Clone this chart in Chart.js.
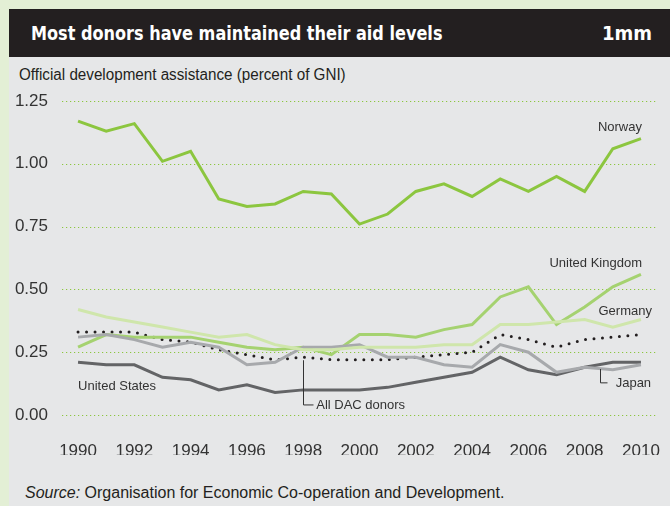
<!DOCTYPE html>
<html>
<head>
<meta charset="utf-8">
<script src="https://cdn.jsdelivr.net/npm/chart.js@4"></script>
<style>
  html, body { margin:0; padding:0; }
  body { width:670px; height:506px; background:#e3efd5; position:relative; overflow:hidden; }
  .panel { position:absolute; left:9px; top:57px; right:0; bottom:0; background:#e6e7e8; }
  .bar { position:absolute; left:9px; top:9px; right:0; height:48px; background:#231f20; color:#fff;
         font-family:"Liberation Sans Narrow","DejaVu Sans Condensed",Arial,sans-serif; font-weight:bold; font-size:20px; }
  .bar .t { position:absolute; left:22px; top:12px; transform:scaleX(0.895); transform-origin:left center; white-space:nowrap; }
  .bar .r { position:absolute; right:18px; top:12px; }
  .sub { position:absolute; left:19px; top:66px; font-family:"Liberation Sans Narrow",Arial,sans-serif; font-size:16px; color:#231f20;
         transform:scaleX(0.95); transform-origin:left center; white-space:nowrap; }
  .src { position:absolute; left:25px; top:484px; font-family:"Liberation Sans Narrow",Arial,sans-serif; font-size:16px; color:#231f20; white-space:nowrap; }
  canvas { position:absolute; left:0; top:0; }
</style>
</head>
<body>
<div class="panel"></div>
<div class="bar"><span class="t">Most donors have maintained their aid levels</span><span class="r">1mm</span></div>
<div class="sub">Official development assistance (percent of GNI)</div>
<div class="src"><i>Source:</i> Organisation for Economic Co-operation and Development.</div>
<canvas id="c" width="670" height="506"></canvas>
<script>
const years = [1990,1991,1992,1993,1994,1995,1996,1997,1998,1999,2000,2001,2002,2003,2004,2005,2006,2007,2008,2009,2010];
const norway  = [1.17,1.13,1.16,1.01,1.05,0.86,0.83,0.84,0.89,0.88,0.76,0.80,0.89,0.92,0.87,0.94,0.89,0.95,0.89,1.06,1.10];
const uk      = [0.27,0.32,0.31,0.31,0.31,0.29,0.27,0.26,0.27,0.24,0.32,0.32,0.31,0.34,0.36,0.47,0.51,0.36,0.43,0.51,0.56];
const germany = [0.42,0.39,0.37,0.35,0.33,0.31,0.32,0.28,0.26,0.26,0.27,0.27,0.27,0.28,0.28,0.36,0.36,0.37,0.38,0.35,0.38];
const japan   = [0.31,0.32,0.30,0.27,0.29,0.27,0.20,0.21,0.27,0.27,0.28,0.23,0.23,0.20,0.19,0.28,0.25,0.17,0.19,0.18,0.20];
const usa     = [0.21,0.20,0.20,0.15,0.14,0.10,0.12,0.09,0.10,0.10,0.10,0.11,0.13,0.15,0.17,0.23,0.18,0.16,0.19,0.21,0.21];
const dac     = [0.33,0.33,0.33,0.30,0.29,0.26,0.24,0.22,0.23,0.22,0.22,0.22,0.23,0.24,0.25,0.32,0.30,0.27,0.30,0.31,0.32];
const xTicks = [1990,1992,1994,1996,1998,2000,2002,2004,2006,2008,2010];
const yTicks = [0,0.25,0.5,0.75,1,1.25];

const pts = arr => arr.map((v,i) => ({x:years[i], y:v}));

// dotted horizontal grid
const dotGrid = {
  id:"dotGrid",
  beforeDatasetsDraw(chart){
    const {ctx, chartArea:a, scales:{y}} = chart;
    ctx.save();
    ctx.strokeStyle = "#8cc63f";
    ctx.lineWidth = 1.2;
    ctx.setLineDash([1.2,2.8]);
    yTicks.forEach(v => {
      const py = Math.round(y.getPixelForValue(v)) + 0.5;
      ctx.beginPath();
      ctx.moveTo(a.left, py);
      ctx.lineTo(a.right, py);
      ctx.stroke();
    });
    ctx.restore();
  }
};

const labels = {
  id:"labels",
  afterDatasetsDraw(chart){
    const {ctx, scales:{x, y}} = chart;
    ctx.save();
    ctx.font = "13px 'Liberation Sans', Arial, sans-serif";
    ctx.fillStyle = "#333";
    ctx.textBaseline = "middle";
    ctx.textAlign = "right";
    ctx.fillText("Norway", x.getPixelForValue(2010)+1, y.getPixelForValue(1.146));
    ctx.fillText("United Kingdom", x.getPixelForValue(2010)+1, y.getPixelForValue(0.605));
    ctx.fillText("Germany", x.getPixelForValue(2010)+11, y.getPixelForValue(0.414));
    ctx.textAlign = "left";
    ctx.fillText("United States", x.getPixelForValue(1990), y.getPixelForValue(0.115));
    ctx.fillText("Japan", x.getPixelForValue(2008)+31, y.getPixelForValue(0.127));
    ctx.fillText("All DAC donors", x.getPixelForValue(1998)+13, y.getPixelForValue(0.038));
    ctx.strokeStyle = "#333";
    ctx.lineWidth = 1;
    ctx.beginPath();
    let lx = Math.round(x.getPixelForValue(1998))+0.5;
    ctx.moveTo(lx, y.getPixelForValue(0.23)+3);
    ctx.lineTo(lx, y.getPixelForValue(0.04));
    ctx.lineTo(lx+10, y.getPixelForValue(0.04));
    lx = Math.round(x.getPixelForValue(2008)+15)+0.5;
    ctx.moveTo(lx, y.getPixelForValue(0.183));
    ctx.lineTo(lx, y.getPixelForValue(0.128));
    ctx.lineTo(lx+7, y.getPixelForValue(0.128));
    ctx.stroke();
    ctx.restore();
  }
};

new Chart(document.getElementById("c"), {
  type:"line",
  data:{
    datasets:[
      { data:pts(germany), borderColor:"#cfe6ab", borderWidth:3 },
      { data:pts(japan), borderColor:"#a7a9ac", borderWidth:3 },
      { data:pts(usa), borderColor:"#636466", borderWidth:3 },
      { data:pts(uk), borderColor:"#a5d270", borderWidth:3 },
      { data:pts(dac), borderColor:"#231f20", borderWidth:3, borderDash:[0,8.5], borderCapStyle:"round" },
      { data:pts(norway), borderColor:"#8cc63f", borderWidth:3 }
    ]
  },
  options:{
    responsive:false,
    animation:false,
    layout:{ padding:{ left:0, right:13, top:101, bottom:51 } },
    elements:{ point:{ radius:0 }, line:{ tension:0 } },
    plugins:{ legend:{ display:false }, tooltip:{ enabled:false } },
    scales:{
      x:{
        type:"linear", min:1989.43, max:2010.57,
        afterBuildTicks: s => { s.ticks = xTicks.map(v => ({value:v})); },
        afterFit: s => { s.height = 40; s.paddingLeft = 0; s.paddingRight = 0; },
        grid:{ display:false }, border:{ display:false },
        ticks:{ padding:18, color:"#333", maxRotation:0, font:{ size:17, family:"'Liberation Sans', Arial, sans-serif" }, callback: v => String(v) }
      },
      y:{
        min:0, max:1.25,
        afterBuildTicks: s => { s.ticks = yTicks.map(v => ({value:v})); },
        afterFit: s => { s.width = 62; s.paddingTop = 0; s.paddingBottom = 0; },
        grid:{ display:false }, border:{ display:false },
        ticks:{ padding:6, color:"#333", font:{ size:17, family:"'Liberation Sans', Arial, sans-serif" }, callback: v => v.toFixed(2) }
      }
    }
  },
  plugins:[dotGrid, labels]
});
</script>
</body>
</html>
